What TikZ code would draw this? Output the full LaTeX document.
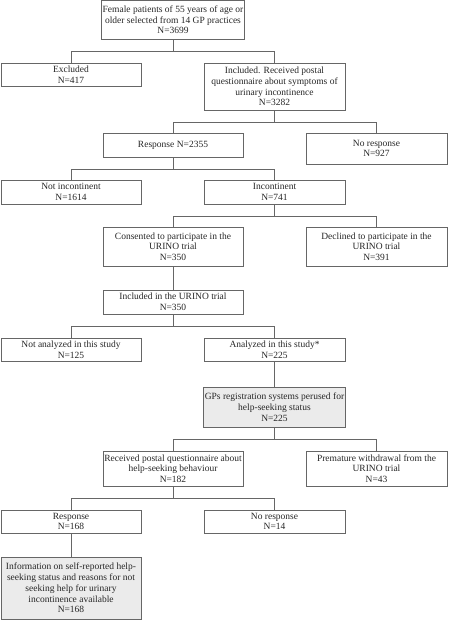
\documentclass[tikz,border=0pt]{standalone}
\usepackage{fontspec}
\setmainfont{Liberation Serif}
\begin{document}
\begin{tikzpicture}[x=1pt,y=-1pt,
  box/.style={draw=black!60, line width=0.9pt, rectangle, align=center, inner sep=1pt,
    font=\fontsize{9.5}{10.7}\selectfont, text=black!85},
  gbox/.style={box, fill=black!8},
  link/.style={draw=black!60, line width=0.9pt}]
\useasboundingbox (0,0) rectangle (448,620);
\node[box, minimum width=140, minimum height=38.5] (top) at (173,19.75) {Female patients of 55 years of age or\\older selected from 14 GP practices\\N=3699};
\node[box, minimum width=140, minimum height=23] (excl) at (71,74.5) {Excluded\\N=417};
\node[box, minimum width=141, minimum height=47] (incl) at (274.5,86.5) {Included. Received postal\\questionnaire about symptoms of\\urinary incontinence\\N=3282};
\node[box, minimum width=140, minimum height=24] (resp) at (173,145) {Response N=2355};
\node[box, minimum width=141, minimum height=31] (noresp) at (376.5,148.5) {No response\\N=927};
\node[box, minimum width=140, minimum height=24] (notinc) at (71,192) {Not incontinent\\N=1614};
\node[box, minimum width=141, minimum height=24] (inc) at (274.5,192) {Incontinent\\N=741};
\node[box, minimum width=140, minimum height=39] (cons) at (173,246.5) {Consented to participate in the\\URINO trial\\N=350};
\node[box, minimum width=141, minimum height=39] (decl) at (376.5,246.5) {Declined to participate in the\\URINO trial\\N=391};
\node[box, minimum width=140, minimum height=24] (inclu) at (173,302) {Included in the URINO trial\\N=350};
\node[box, minimum width=140, minimum height=23] (notan) at (71,349.5) {Not analyzed in this study\\N=125};
\node[box, minimum width=141, minimum height=23] (an) at (274.5,349.5) {Analyzed in this study*\\N=225};
\node[gbox, minimum width=141, minimum height=40] (gps) at (274.5,407) {GPs registration systems perused for\\help-seeking status\\N=225};
\node[box, minimum width=140, minimum height=35] (recv) at (173,468.5) {Received postal questionnaire about\\help-seeking behaviour\\N=182};
\node[box, minimum width=141, minimum height=35] (prem) at (376.5,468.5) {Premature withdrawal from the\\URINO trial\\N=43};
\node[box, minimum width=140, minimum height=23] (r168) at (71,521.5) {Response\\N=168};
\node[box, minimum width=141, minimum height=23] (nr14) at (274.5,521.5) {No response\\N=14};
\node[gbox, minimum width=140, minimum height=62] (info) at (71,588) {Information on self-reported help-\\seeking status and reasons for not\\seeking help for urinary\\incontinence available\\N=168};
% connectors
\draw[link] (top.south) -- ++(0,12) coordinate (j1);
\draw[link] (j1) -| (excl.north);
\draw[link] (j1) -| (incl.north);
\draw[link] (incl.south) -- ++(0,12) coordinate (j2);
\draw[link] (j2) -| (resp.north);
\draw[link] (j2) -| (noresp.north);
\draw[link] (resp.south) -- ++(0,12) coordinate (j3);
\draw[link] (j3) -| (notinc.north);
\draw[link] (j3) -| (inc.north);
\draw[link] (inc.south) -- ++(0,12) coordinate (j4);
\draw[link] (j4) -| (cons.north);
\draw[link] (j4) -| (decl.north);
\draw[link] (cons.south) -- (inclu.north);
\draw[link] (inclu.south) -- ++(0,12) coordinate (j5);
\draw[link] (j5) -| (notan.north);
\draw[link] (j5) -| (an.north);
\draw[link] (an.south) -- (gps.north);
\draw[link] (gps.south) -- ++(0,12) coordinate (j6);
\draw[link] (j6) -| (recv.north);
\draw[link] (j6) -| (prem.north);
\draw[link] (recv.south) -- ++(0,12) coordinate (j7);
\draw[link] (j7) -| (r168.north);
\draw[link] (j7) -| (nr14.north);
\draw[link] (r168.south) -- (info.north);
\end{tikzpicture}
\end{document}
